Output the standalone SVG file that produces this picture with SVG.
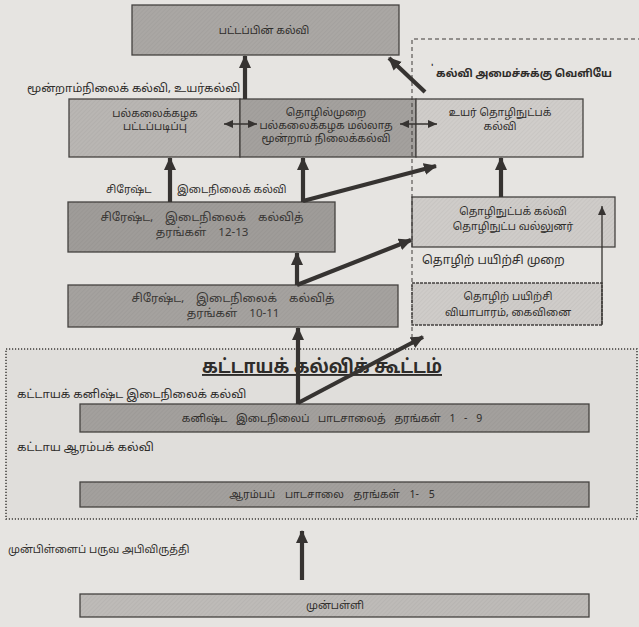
<svg xmlns="http://www.w3.org/2000/svg" width="639" height="627" viewBox="0 0 639 627">
<style>
  .t{font-family:"Noto Sans Tamil","Latha","Noto Sans","DejaVu Sans",sans-serif;font-size:10.5px;fill:#2e2c2a;}
  .l{font-size:11.5px;}
  .w{font-size:11.5px;word-spacing:9px;fill:#3a3836;}
  .tc{text-anchor:middle;}
  .b{font-weight:bold;}
  .box{stroke:#454240;stroke-width:1.3;}
  .thick{stroke:#363331;stroke-width:4.2;fill:none;}
  .thin{stroke:#363331;stroke-width:1.3;fill:none;}
  .dash{stroke:#3e3b39;stroke-width:1;stroke-dasharray:4 3;fill:none;}
  .dots{stroke:#3e3b39;stroke-width:1.5;stroke-dasharray:1.2 1.8;}
</style>
<defs>
  <pattern id="hatch" width="3" height="3" patternUnits="userSpaceOnUse" patternTransform="rotate(45)">
    <line x1="0" y1="0" x2="0" y2="3" stroke="#000" stroke-opacity="0.07" stroke-width="1"/>
  </pattern>
  <marker id="ah" markerUnits="userSpaceOnUse" markerWidth="14" markerHeight="14" refX="12" refY="6" orient="auto">
    <path d="M0,0 L13,6 L0,12 Z" fill="#363331"/>
  </marker>
  <marker id="ahs" markerUnits="userSpaceOnUse" markerWidth="10" markerHeight="10" refX="9" refY="4" orient="auto">
    <path d="M0,0 L9,4 L0,8 Z" fill="#363331"/>
  </marker>
  <marker id="ahsr" markerUnits="userSpaceOnUse" markerWidth="10" markerHeight="10" refX="0" refY="4" orient="auto">
    <path d="M9,0 L0,4 L9,8 Z" fill="#363331"/>
  </marker>
</defs>

<rect width="639" height="627" fill="#e6e4e1"/>

<!-- compulsory education cluster -->
<g id="compulsory-cluster">
  <rect class="dots" x="6" y="349" width="631" height="170" fill="#e0dedb"/>
  <text class="t b" x="322" y="373" style="font-size:19px" text-anchor="middle" text-decoration="underline" textLength="240" lengthAdjust="spacingAndGlyphs">கட்டாயக் கல்விக் கூட்டம்</text>
  <text class="t l" x="17" y="398">கட்டாயக் கனிஷ்ட இடைநிலைக் கல்வி</text>
  <text class="t l" x="17" y="451">கட்டாய ஆரம்பக் கல்வி</text>
</g>

<g id="postgrad">
  <rect class="box" x="132" y="5" width="267" height="50" fill="#aaa7a4"/>
  <rect x="132" y="5" width="267" height="50" fill="url(#hatch)"/>
  <text class="t tc" x="264" y="34">பட்டப்பின் கல்வி</text>
</g>

<g id="label-tertiary">
  <text class="t l" x="27" y="92">மூன்றாம்நிலைக் கல்வி, உயர்கல்வி</text>
</g>

<g id="university">
  <rect class="box" x="69" y="99" width="171" height="58" fill="#b9b6b3"/>
  <rect x="69" y="99" width="171" height="58" fill="url(#hatch)"/>
  <text class="t tc" x="155" y="117">பல்கலைக்கழக</text>
  <text class="t tc" x="155" y="130">பட்டப்படிப்பு</text>
</g>

<g id="non-university">
  <rect class="box" x="240" y="99" width="176" height="58" fill="#a4a19e"/>
  <rect x="240" y="99" width="176" height="58" fill="url(#hatch)"/>
  <text class="t tc" x="326" y="116">தொழில்முறை</text>
  <text class="t tc" x="326" y="129">பல்கலைக்கழக மல்லாத</text>
  <text class="t tc" x="326" y="142">மூன்றாம் நிலைக்கல்வி</text>
</g>

<g id="higher-tech">
  <rect class="box" x="416" y="99" width="167" height="58" fill="#d0cdca"/>
  <rect x="416" y="99" width="167" height="58" fill="url(#hatch)"/>
  <text class="t tc" x="500" y="116">உயர் தொழிநுட்பக்</text>
  <text class="t tc" x="500" y="130">கல்வி</text>
</g>

<g id="label-senior">
  <text class="t" x="106" y="193">சிரேஷ்ட</text>
  <text class="t" x="177" y="193">இடைநிலைக் கல்வி</text>
</g>

<g id="senior-12-13">
  <rect class="box" x="68" y="202" width="267" height="50" fill="#9f9c99"/>
  <rect x="68" y="202" width="267" height="50" fill="url(#hatch)"/>
  <text class="t w tc" x="202" y="221">சிரேஷ்ட, இடைநிலைக் கல்வித்</text>
  <text class="t w tc" x="202" y="236">தரங்கள் 12-13</text>
</g>

<g id="tech-edu">
  <rect class="box" x="412" y="197" width="203" height="50" fill="#cfccc9"/>
  <rect x="412" y="197" width="203" height="50" fill="url(#hatch)"/>
  <text class="t tc" x="513" y="215">தொழிநுட்பக் கல்வி</text>
  <text class="t tc" x="513" y="230">தொழிநுட்ப வல்லுனர்</text>
</g>

<g id="label-vocational">
  <text class="t" x="422" y="264" style="font-size:12px">தொழிற் பயிற்சி முறை</text>
</g>

<g id="senior-10-11">
  <rect class="box" x="68" y="285" width="330" height="42" fill="#a5a29f"/>
  <rect x="68" y="285" width="330" height="42" fill="url(#hatch)"/>
  <text class="t w tc" x="233" y="302">சிரேஷ்ட, இடைநிலைக் கல்வித்</text>
  <text class="t w tc" x="233" y="317">தரங்கள் 10-11</text>
</g>

<g id="vocational-training">
  <rect class="box" x="412" y="283" width="190" height="42" fill="#cfccc9" stroke-dasharray="3 1"/>
  <rect x="412" y="283" width="190" height="42" fill="url(#hatch)"/>
  <text class="t tc" x="508" y="300">தொழிற் பயிற்சி</text>
  <text class="t tc" x="508" y="316">வியாபாரம், கைவினை</text>
</g>

<g id="junior-1-9">
  <rect class="box" x="80" y="404" width="509" height="28" fill="#a3a09d"/>
  <rect x="80" y="404" width="509" height="28" fill="url(#hatch)"/>
  <text class="t tc" x="332" y="422" word-spacing="6">கனிஷ்ட இடைநிலைப் பாடசாலைத் தரங்கள் 1 - 9</text>
</g>

<g id="primary-1-5">
  <rect class="box" x="80" y="482" width="509" height="25" fill="#a3a09d"/>
  <rect x="80" y="482" width="509" height="25" fill="url(#hatch)"/>
  <text class="t tc" x="332" y="498" word-spacing="7">ஆரம்பப் பாடசாலை தரங்கள் 1- 5</text>
</g>

<g id="label-early">
  <text class="t" x="8" y="553">முன்பிள்ளைப் பருவ அபிவிருத்தி</text>
</g>

<g id="preschool">
  <rect class="box" x="80" y="594" width="509" height="23" fill="#bebbb8"/>
  <rect x="80" y="594" width="509" height="23" fill="url(#hatch)"/>
  <text class="t tc" x="335" y="609">முன்பள்ளி</text>
</g>

<!-- outside ministry region -->
<g id="outside-region">
  <path class="dash" d="M412,345 L412,39 L639,39"/>
  <text class="t b" x="431" y="71" style="font-size:9px">'</text>
  <text class="t b" x="436" y="77" style="font-size:11px" textLength="176" lengthAdjust="spacingAndGlyphs">கல்வி அமைச்சுக்கு வெளியே</text>
</g>

<g id="connectors">
  <line class="thick" x1="245" y1="99" x2="245" y2="56" marker-end="url(#ah)"/>
  <line class="thick" x1="425" y1="92" x2="389" y2="58" marker-end="url(#ah)"/>
  <line class="thin" x1="224" y1="124" x2="257" y2="124" marker-start="url(#ahsr)" marker-end="url(#ahs)"/>
  <line class="thin" x1="400" y1="124" x2="437" y2="124" marker-start="url(#ahsr)" marker-end="url(#ahs)"/>
  <line class="thick" x1="170" y1="202" x2="170" y2="158" marker-end="url(#ah)"/>
  <line class="thick" x1="303" y1="202" x2="303" y2="158" marker-end="url(#ah)"/>
  <line class="thick" x1="303" y1="201" x2="436" y2="166" marker-end="url(#ah)"/>
  <line class="thick" x1="501" y1="197" x2="501" y2="158" marker-end="url(#ah)"/>
  <line class="thin" x1="602" y1="325" x2="602" y2="206" marker-end="url(#ahs)"/>
  <line class="thick" x1="297" y1="285" x2="297" y2="253" marker-end="url(#ah)"/>
  <line class="thick" x1="297" y1="285" x2="411" y2="240" marker-end="url(#ah)"/>
  <line class="thick" x1="298" y1="404" x2="298" y2="328" marker-end="url(#ah)"/>
  <line class="thick" x1="298" y1="403" x2="423" y2="337" marker-end="url(#ah)"/>
  <line class="thick" x1="302" y1="580" x2="302" y2="531" marker-end="url(#ah)"/>
</g>
</svg>
